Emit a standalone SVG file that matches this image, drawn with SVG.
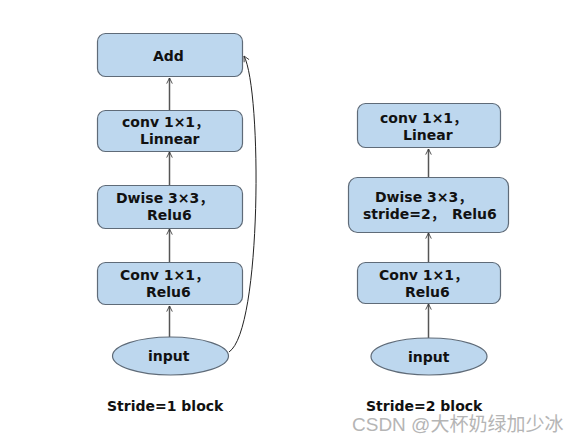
<svg xmlns="http://www.w3.org/2000/svg" width="577" height="444" viewBox="0 0 577 444">
<defs>
<style>
.box{fill:#bdd7ee;stroke:#5f6b78;stroke-width:1.2}
.t{font-family:"DejaVu Sans","Noto Sans CJK SC",Verdana,sans-serif;font-weight:bold;font-size:14px;fill:#111}
.e{fill:none;stroke:#555;stroke-width:1.5}
.c{fill:none;stroke:#222;stroke-width:1}
</style>
<marker id="ah" viewBox="0 0 10 10" refX="9" refY="5" markerWidth="7" markerHeight="7" markerUnits="userSpaceOnUse" orient="auto">
<path d="M1,1 L9,5 L1,9" fill="none" stroke="#333" stroke-width="1.2"/>
</marker>
</defs>
<rect width="577" height="444" fill="#fff"/>
<g id="connectors">
<line class="e" x1="169.5" y1="337" x2="169.5" y2="306" marker-end="url(#ah)"/>
<line class="e" x1="169.5" y1="262" x2="169.5" y2="229" marker-end="url(#ah)"/>
<line class="e" x1="169.5" y1="185" x2="169.5" y2="152" marker-end="url(#ah)"/>
<line class="e" x1="169.5" y1="110" x2="169.5" y2="78" marker-end="url(#ah)"/>
<path class="c" d="M229,352 C262,330 262,90 244,56" marker-end="url(#ah)"/>
<line class="e" x1="428.5" y1="338" x2="428.5" y2="304" marker-end="url(#ah)"/>
<line class="e" x1="428.5" y1="262" x2="428.5" y2="233" marker-end="url(#ah)"/>
<line class="e" x1="428.5" y1="177" x2="428.5" y2="149" marker-end="url(#ah)"/>
</g>
<g id="add"><rect class="box" x="97.5" y="33.5" width="145" height="43" rx="8"/><text class="t" x="153" y="61">Add</text></g>
<g id="l-conv-linear"><rect class="box" x="97.5" y="110.5" width="145" height="41" rx="8"/><text class="t" x="122" y="127">conv 1×1，</text><text class="t" x="140" y="144">Linnear</text></g>
<g id="l-dwise"><rect class="box" x="97.5" y="185.5" width="145" height="43" rx="8"/><text class="t" x="116" y="203">Dwise 3×3，</text><text class="t" x="147" y="220">Relu6</text></g>
<g id="l-conv-relu"><rect class="box" x="97.5" y="262.5" width="145" height="42" rx="8"/><text class="t" x="120" y="280">Conv 1×1，</text><text class="t" x="146" y="297">Relu6</text></g>
<g id="l-input"><ellipse class="box" cx="170.5" cy="356" rx="58" ry="19"/><text class="t" x="148" y="361">input</text></g>
<g id="r-conv-linear"><rect class="box" x="357.5" y="103.5" width="143" height="44" rx="8"/><text class="t" x="380" y="123">conv 1×1，</text><text class="t" x="403" y="140">Linear</text></g>
<g id="r-dwise"><rect class="box" x="348.5" y="177.5" width="160" height="55" rx="9"/><text class="t" x="375" y="202">Dwise 3×3，</text><text class="t" x="363" y="219">stride=2，<tspan x="452">Relu6</tspan></text></g>
<g id="r-conv-relu"><rect class="box" x="357.5" y="262.5" width="143" height="41" rx="8"/><text class="t" x="379" y="280">Conv 1×1，</text><text class="t" x="405" y="297">Relu6</text></g>
<g id="r-input"><ellipse class="box" cx="429" cy="356.5" rx="58" ry="18.5"/><text class="t" x="408" y="362">input</text></g>
<text class="t" x="107" y="411">Stride=1 block</text>
<text class="t" x="366" y="411">Stride=2 block</text>
<text x="352" y="431" font-family="'Liberation Sans','Noto Sans CJK SC',sans-serif" font-size="19" fill="#b5b5b5">CSDN @大杯奶绿加少冰</text>
</svg>
